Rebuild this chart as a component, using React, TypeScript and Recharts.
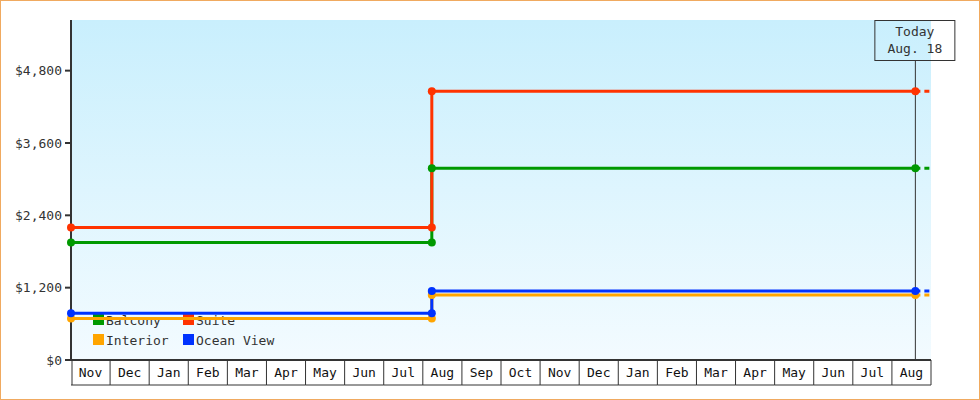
import React from "react";
import {
    LineChart,
    Line,
    XAxis,
    YAxis,
    CartesianGrid,
    ReferenceLine,
    Customized,
} from "recharts";

// month boxes along the bottom, Nov of year 1 to Aug of year 2
const months = [
    "Nov", "Dec", "Jan", "Feb", "Mar", "Apr", "May", "Jun", "Jul", "Aug", "Sep",
    "Oct", "Nov", "Dec", "Jan", "Feb", "Mar", "Apr", "May", "Jun", "Jul", "Aug",
];

// x is counted in months since Nov 1 (step around Aug 8, today Aug 18)
const pointX = [0, 9.23, 9.23, 21.6];
const balcony = [1950, 1950, 3180, 3180];
const suite = [2200, 2200, 4460, 4460];
const interior = [690, 690, 1080, 1080];
const oceanView = [775, 775, 1145, 1145];

// dashed continuation past today
const forecastX = [21.6, 22];

const todayX = 21.6;
const todayLabel = ["Today", "Aug. 18"];

const yTicks = [0, 1200, 2400, 3600, 4800];
const yMax = 5640;

const series = [
    { key: "balcony", name: "Balcony", color: "#009900", values: balcony },
    { key: "suite", name: "Suite", color: "#ff3300", values: suite },
    { key: "interior", name: "Interior", color: "#ffa500", values: interior },
    { key: "oceanView", name: "Ocean View", color: "#0033ff", values: oceanView },
];

const W = 980;
const H = 400;
const PLOT_LEFT = 71;
const PLOT_RIGHT = 931;
const PLOT_TOP = 20;
const PLOT_BOTTOM = 360;
const AXIS_H = 25;
const FONT = "'DejaVu Sans Mono', monospace";

const boxW = (PLOT_RIGHT - PLOT_LEFT) / months.length;

function buildData() {
    const rows: Record<string, number | undefined>[] = pointX.map((x, i) => {
        const row: Record<string, number | undefined> = { x };
        series.forEach((s) => {
            row[s.key] = s.values[i];
        });
        return row;
    });
    const last = pointX.length - 1;
    series.forEach((s) => {
        rows[last][s.key + "Fc"] = s.values[last];
    });
    const tail: Record<string, number | undefined> = { x: forecastX[1] };
    series.forEach((s) => {
        tail[s.key + "Fc"] = s.values[last];
    });
    rows.push(tail);
    return rows;
}

const data = buildData();

function MonthTick(props: any) {
    const { x, payload, index } = props;
    const label = months[Math.floor(payload.value)];
    const left = x - boxW / 2;
    const right = x + boxW / 2;
    const bottom = PLOT_BOTTOM + AXIS_H;
    return (
        <g>
            {index === 0 && (
                <line x1={left + 1} y1={PLOT_BOTTOM} x2={left + 1} y2={bottom} stroke="#333" strokeWidth={1} />
            )}
            <line x1={right} y1={PLOT_BOTTOM} x2={right} y2={bottom} stroke="#333" strokeWidth={1} />
            <line x1={left} y1={bottom} x2={right} y2={bottom} stroke="#333" strokeWidth={1} />
            <text x={x} y={PLOT_BOTTOM + 17} textAnchor="middle" fill="#111" fontSize={13} fontFamily={FONT}>
                {label}
            </text>
        </g>
    );
}

function TodayMarker(props: any) {
    const { x1, y1, y2 } = props;
    const bottom = Math.max(y1, y2);
    const boxTop = PLOT_TOP;
    const boxH = 40;
    const bw = 80;
    return (
        <g>
            <line x1={x1} y1={boxTop + boxH} x2={x1} y2={bottom} stroke="#333" strokeWidth={1} />
            <rect x={x1 - bw / 2 - 0.5} y={boxTop + 0.5} width={bw} height={boxH} fill="none" stroke="#333" strokeWidth={1} />
            <text x={x1 - 0.5} y={boxTop + 16} textAnchor="middle" fill="#333" fontSize={13} fontFamily={FONT}>
                {todayLabel[0]}
            </text>
            <text x={x1 - 0.5} y={boxTop + 33} textAnchor="middle" fill="#333" fontSize={13} fontFamily={FONT}>
                {todayLabel[1]}
            </text>
        </g>
    );
}

function InsideLegend() {
    const x0 = PLOT_LEFT + 22;
    const y0 = PLOT_BOTTOM - 46;
    const colW = 90;
    const rowH = 20;
    return (
        <g>
            {series.map((s, i) => {
                const cx = x0 + (i % 2) * colW;
                const cy = y0 + Math.floor(i / 2) * rowH;
                return (
                    <g key={s.key}>
                        <rect x={cx} y={cy} width={11} height={11} fill={s.color} />
                        <text x={cx + 13} y={cy + 10.5} fill="#333" fontSize={13} fontFamily={FONT}>
                            {s.name}
                        </text>
                    </g>
                );
            })}
        </g>
    );
}

export default function App() {
    return (
        <div style={{ position: "absolute", left: 0, top: 0, width: W, height: H, background: "#fff" }}>
            <LineChart
                width={W}
                height={H}
                data={data}
                margin={{ top: PLOT_TOP, right: W - PLOT_RIGHT, bottom: H - PLOT_BOTTOM - AXIS_H, left: 0 }}
            >
                <defs>
                    <linearGradient id="plotBg" x1="0" y1="0" x2="0" y2="1">
                        <stop offset="0%" stopColor="#c9effd" />
                        <stop offset="100%" stopColor="#f3fbff" />
                    </linearGradient>
                </defs>
                <CartesianGrid horizontal={false} vertical={false} fill="url(#plotBg)" />
                <XAxis
                    type="number"
                    dataKey="x"
                    domain={[0, months.length]}
                    ticks={months.map((_, i) => i + 0.5)}
                    interval={0}
                    height={AXIS_H}
                    tickLine={false}
                    axisLine={{ stroke: "#333", strokeWidth: 2 }}
                    tick={<MonthTick />}
                    allowDataOverflow
                />
                <YAxis
                    type="number"
                    domain={[0, yMax]}
                    ticks={yTicks}
                    width={PLOT_LEFT}
                    tickSize={6}
                    tickMargin={3}
                    axisLine={{ stroke: "#333", strokeWidth: 2 }}
                    tickLine={{ stroke: "#333", strokeWidth: 2 }}
                    tick={{ fill: "#333", fontSize: 13, fontFamily: FONT }}
                    tickFormatter={(v: number) => "$" + v.toLocaleString("en-US")}
                    allowDataOverflow
                />
                <Customized component={<InsideLegend />} />
                <ReferenceLine x={todayX} shape={<TodayMarker />} />
                {series.map((s) => (
                    <Line
                        key={s.key + "Fc"}
                        type="linear"
                        dataKey={s.key + "Fc"}
                        stroke={s.color}
                        strokeWidth={3}
                        strokeDasharray="5 4"
                        dot={false}
                        activeDot={false}
                        isAnimationActive={false}
                    />
                ))}
                {series.map((s) => (
                    <Line
                        key={s.key}
                        type="linear"
                        dataKey={s.key}
                        name={s.name}
                        stroke={s.color}
                        strokeWidth={3}
                        dot={{ r: 4, fill: s.color, stroke: "none", clipDot: false }}
                        activeDot={false}
                        isAnimationActive={false}
                    />
                ))}
            </LineChart>
            <div
                style={{
                    position: "absolute",
                    inset: 0,
                    border: "1px solid #f0aa60",
                    boxSizing: "border-box",
                    pointerEvents: "none",
                }}
            />
        </div>
    );
}
